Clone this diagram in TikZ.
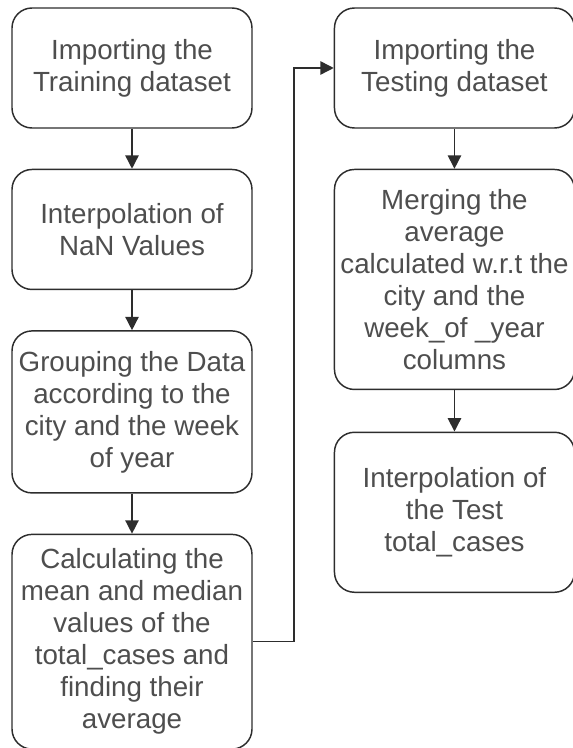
\documentclass[tikz,border=0pt]{standalone}
\usepackage{fontspec}
\setmainfont{Liberation Sans}
\usepackage{xcolor}
\definecolor{boxtext}{RGB}{78,78,78}
\definecolor{boxline}{RGB}{45,45,45}
\usepackage{tikz}
\usetikzlibrary{arrows.meta, positioning}
\tikzset{
  flowbox/.style={
    rectangle, rounded corners=15pt,
    draw=boxline, line width=1.1pt, fill=white,
    minimum width=180pt, minimum height=#1,
    inner sep=2pt, align=center, text=boxtext,
    font=\fontsize{20.8}{24}\selectfont
  },
  flowbox/.default=90pt,
  arrow/.style={line width=1.1pt, color=boxline, -{Triangle[width=10pt,length=10pt]}},
}

\begin{document}
\begin{tikzpicture}[node distance=30pt]
  \useasboundingbox (0,0) rectangle (429.75pt,-561pt);

  % --- Columna izquierda: entrenamiento ---
  \node (train)  [flowbox]                           at (99pt,-51pt) {Importing the\\Training dataset};
  \node (nanint) [flowbox,         below=of train]   {Interpolation of\\NaN Values};
  \node (group)  [flowbox=121.5pt, below=of nanint]  {Grouping the Data\\according to the\\city and the week\\of year};
  \node (calc)   [flowbox=161pt,   below=of group]   {Calculating the\\mean and median\\values of the\\total\_cases and\\finding their\\average};

  % --- Columna derecha: prueba ---
  \node (test)   [flowbox, right=60.75pt of train]   {Importing the\\Testing dataset};
  \node (merge)  [flowbox=165pt,   below=of test]    {Merging the\\average\\calculated w.r.t the\\city and the\\week\_of \_year\\columns};
  \node (testint)[flowbox=120pt,   below=31pt of merge] {Interpolation of\\the Test\\total\_cases};

  % --- Flechas ---
  \draw[arrow] (train)  -- (nanint);
  \draw[arrow] (nanint) -- (group);
  \draw[arrow] (group)  -- (calc);
  \draw[arrow] (calc.east) -- ++(31pt,0) |- (test.west);
  \draw[arrow] (test)   -- (merge);
  \draw[arrow] (merge)  -- (testint);

\end{tikzpicture}
\end{document}
